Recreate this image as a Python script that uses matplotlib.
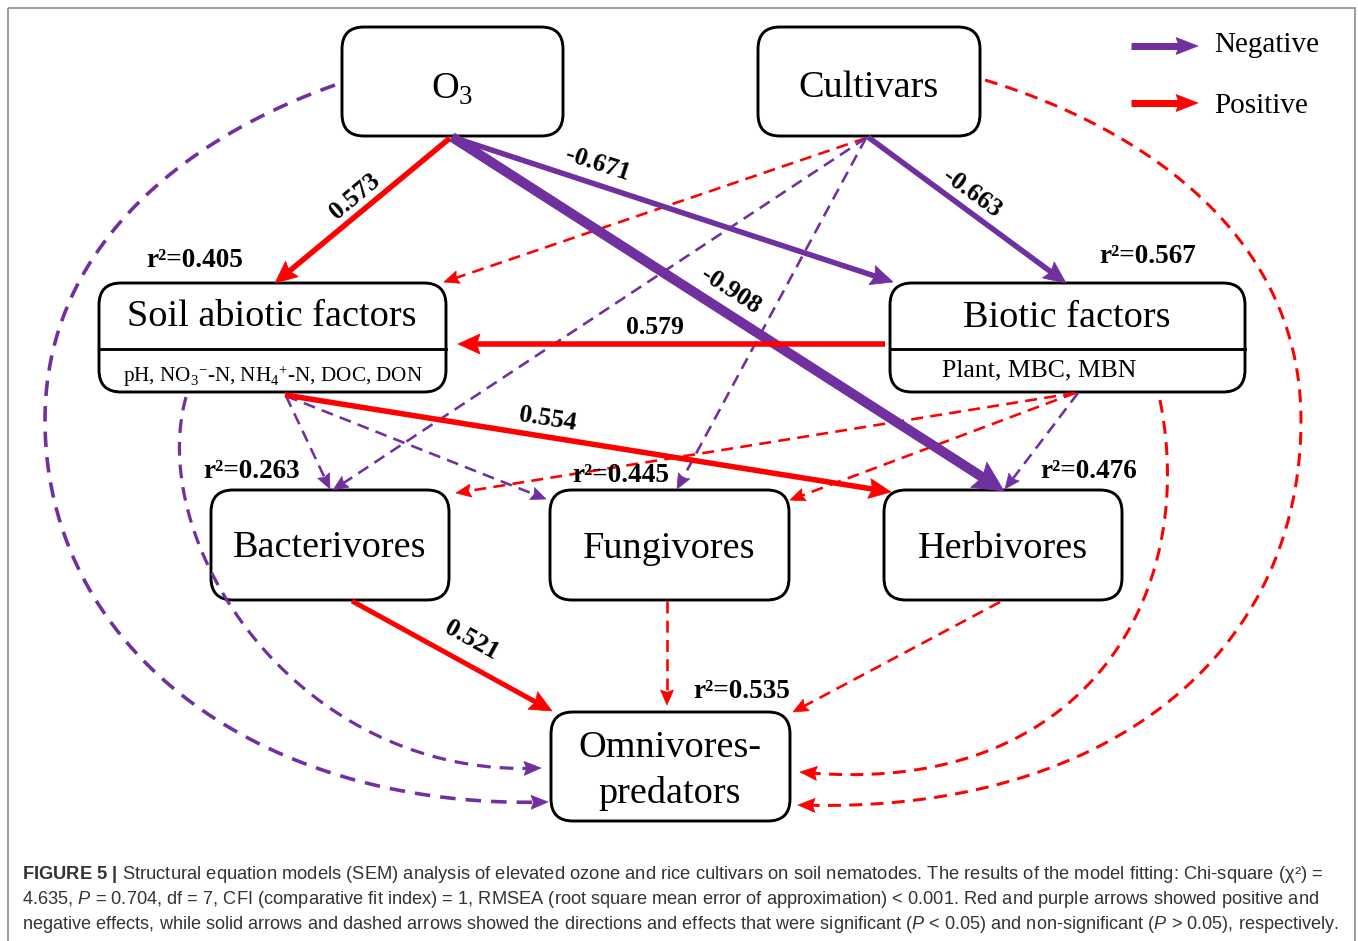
import numpy as np
import matplotlib
matplotlib.use("Agg")
import matplotlib.pyplot as plt
from matplotlib.patches import FancyBboxPatch, Polygon, Rectangle

plt.rcParams['mathtext.fontset'] = 'custom'
plt.rcParams['mathtext.rm'] = 'Liberation Serif'
plt.rcParams['mathtext.it'] = 'Liberation Sans:italic'
plt.rcParams['mathtext.bf'] = 'Liberation Sans:bold'

SERIF = 'Liberation Serif'
SANS = 'Liberation Sans'
PURPLE = '#7030A0'
RED = '#FF0000'
POS_COLOR = RED
NEG_COLOR = PURPLE

# ---------------- data ----------------
node_keys = ['O3', 'Cult', 'Soil', 'Biot', 'Bact', 'Fung', 'Herb', 'Omni']
node_titles = ['O$_3$', 'Cultivars', 'Soil abiotic factors', 'Biotic factors',
               'Bacterivores', 'Fungivores', 'Herbivores', 'Omnivores-\npredators']
node_subtitles = {'Soil': 'pH, NO$_3$$^{-}$-N, NH$_4$$^{+}$-N, DOC, DON',
                  'Biot': 'Plant, MBC, MBN'}

r2_nodes = ['Soil', 'Biot', 'Bact', 'Fung', 'Herb', 'Omni']
r2_values = [0.405, 0.567, 0.263, 0.445, 0.476, 0.535]

# significant paths (solid)
sig_from = ['O3', 'O3', 'O3', 'Cult', 'Biot', 'Soil', 'Bact']
sig_to = ['Soil', 'Biot', 'Herb', 'Biot', 'Soil', 'Herb', 'Omni']
sig_coef = [0.573, -0.671, -0.908, -0.663, 0.579, 0.554, 0.521]

# non-significant paths (dashed, straight)
ns_from = ['Cult', 'Cult', 'Cult', 'Soil', 'Soil', 'Biot', 'Biot', 'Biot', 'Fung', 'Herb']
ns_to = ['Soil', 'Bact', 'Fung', 'Bact', 'Fung', 'Bact', 'Fung', 'Herb', 'Omni', 'Omni']
ns_sign = [1, -1, -1, -1, -1, 1, 1, -1, 1, 1]

# non-significant paths (dashed, curved)
cv_from = ['O3', 'Soil', 'Biot', 'Cult']
cv_to = ['Omni', 'Omni', 'Omni', 'Omni']
cv_sign = [-1, -1, 1, 1]

legend_labels = ['Negative', 'Positive']

caption_lines = [
    r'$\mathbf{FIGURE\ 5\ |}$ Structural equation models (SEM) analysis of elevated ozone and rice cultivars on soil nematodes. The results of the model fitting: Chi-square (χ²) =',
    r'4.635, $\mathit{P}$ = 0.704, df = 7, CFI (comparative fit index) = 1, RMSEA (root square mean error of approximation) < 0.001. Red and purple arrows showed positive and',
    r'negative effects, while solid arrows and dashed arrows showed the directions and effects that were significant ($\mathit{P}$ < 0.05) and non-significant ($\mathit{P}$ > 0.05), respectively.',
]

# ---------------- layout (pixels) ----------------
BOX = {'O3': (342, 27, 563, 136), 'Cult': (758, 27, 980, 136),
       'Soil': (99, 283, 446, 392), 'Biot': (890, 283, 1245, 392),
       'Bact': (211, 490, 449, 600), 'Fung': (550, 490, 789, 600),
       'Herb': (884, 490, 1122, 600), 'Omni': (551, 712, 790, 821)}
TITLE_POS = {'O3': [(452, 99)], 'Cult': [(868, 97)], 'Soil': [(272, 326)],
             'Biot': [(1067, 327)], 'Bact': [(330, 557)], 'Fung': [(669, 558)],
             'Herb': [(1003, 558)], 'Omni': [(670, 757), (670, 803)]}
SUB_POS = {'Soil': (273, 382, 'center', 15.2), 'Biot': (942, 376, 'left', 18.5)}
DIVIDER_Y = 349
R2_POS = {'Soil': (195, 267), 'Biot': (1148, 263), 'Bact': (252, 478),
          'Fung': (621, 482), 'Herb': (1089, 478), 'Omni': (742, 698)}

SIG_GEOM = [((450, 138), (275, 283)), ((452, 137), (893, 282)), ((452, 137), (1004, 491)),
            ((868, 137), (1066, 283)), ((885, 344), (458, 344)), ((285, 395), (891, 492)),
            ((352, 601), (552, 711))]
SIG_LW = [5.5, 5.5, 10, 5.5, 5.5, 5.5, 5]
SIG_HEAD = [(22, 20), (22, 20), (30, 30), (22, 20), (22, 20), (22, 20), (22, 20)]
SIG_LABEL = [(355, 196, 40), (598, 164, -18), (731, 291, -33), (972, 193, -36),
             (655, 327, 0), (548, 419, -9), (472, 640, -29)]

NS_GEOM = [((866, 138), (444, 282)), ((866, 138), (333, 490)), ((866, 138), (677, 489)),
           ((286, 396), (330, 489)), ((286, 396), (546, 499)), ((1075, 393), (456, 493)),
           ((1075, 393), (790, 500)), ((1078, 393), (1005, 489)), ((667, 601), (667, 705)),
           ((1000, 602), (793, 712))]

CV_GEOM = [
    [[(335, 85), (180, 140), (45, 250), (45, 420)], [(45, 420), (45, 650), (260, 810), (548, 802)]],
    [[(186, 397), (145, 545), (300, 780), (541, 768)]],
    [[(1160, 400), (1200, 600), (1080, 800), (800, 772)]],
    [[(985, 80), (1150, 130), (1301, 240), (1301, 420)], [(1301, 420), (1301, 660), (1100, 815), (798, 805)]],
]
CV_LW = [3.6, 3.2, 3.0, 3.0]
CV_DASH = [(4.3, 2.8), (4.3, 2.8), (4.3, 2.8), (4.3, 2.8)]

LEGEND_GEOM = [((1131, 46), (1198, 46)), ((1131, 103), (1198, 103))]
LEGEND_TEXT = [(1214, 52), (1214, 113)]

CAPTION_X = 22
CAPTION_Y = [879, 904, 929]
CAPTION_W = [1294, 1298, 1312]

PX = 72.0 / 100.0

fig = plt.figure(figsize=(13.58, 9.41), dpi=100)
ax = fig.add_axes([0, 0, 1, 1])
ax.set_xlim(0, 1358)
ax.set_ylim(941, 0)
ax.axis('off')

ax.add_patch(Rectangle((8, 8), 1347, 945, fill=False, ec='#8a8a8a', lw=1.2, zorder=1))


def bezier(segs, n=300):
    out = []
    for P in segs:
        P = np.asarray(P, float)
        t = np.linspace(0, 1, n)[:, None]
        B = ((1 - t) ** 3) * P[0] + 3 * ((1 - t) ** 2) * t * P[1] + 3 * (1 - t) * t ** 2 * P[2] + t ** 3 * P[3]
        out.append(B if not out else B[1:])
    return np.vstack(out)


def draw_arrow(pts, color, lw, hl, hw, dash=None, z=4):
    pts = np.asarray(pts, float)
    tip = pts[-1]
    d = np.hypot(*(pts - tip).T)
    if len(pts) == 2:
        v = tip - pts[0]
    else:
        idx = np.where(d >= hl)[0][-1]
        v = tip - pts[idx]
    v = v / np.hypot(*v)
    base = tip - v * hl
    cut = hl * 0.6
    if len(pts) == 2:
        line = np.array([pts[0], tip - v * cut])
    else:
        line = np.vstack([pts[d > cut], tip - v * cut])
    ls = '-' if dash is None else (0, dash)
    ax.plot(line[:, 0], line[:, 1], color=color, lw=lw * PX, ls=ls,
            solid_capstyle='butt', dash_capstyle='butt', zorder=z)
    nrm = np.array([-v[1], v[0]])
    head = Polygon([tip, base + nrm * hw / 2, tip - v * hl * 0.85, base - nrm * hw / 2],
                   closed=True, fc=color, ec=color, lw=0.5, zorder=z)
    ax.add_patch(head)


def col(s):
    return POS_COLOR if s > 0 else NEG_COLOR


# boxes
for k, title in zip(node_keys, node_titles):
    x0, y0, x1, y1 = BOX[k]
    ax.add_patch(FancyBboxPatch((x0, y0), x1 - x0, y1 - y0,
                                boxstyle='round,pad=0,rounding_size=22',
                                fc='white', ec='black', lw=2.1, zorder=3))
    for line, (tx, ty) in zip(title.split('\n'), TITLE_POS[k]):
        ax.text(tx, ty, line, family=SERIF, fontsize=27.5, ha='center', va='baseline', zorder=5)
    if k in node_subtitles:
        ax.plot([x0, x1], [DIVIDER_Y, DIVIDER_Y], color='black', lw=2.1, zorder=5)
        sx, sy, ha, fs = SUB_POS[k]
        ax.text(sx, sy, node_subtitles[k], family=SERIF, fontsize=fs, ha=ha, va='baseline', zorder=5)

# r2 labels
for k, v in zip(r2_nodes, r2_values):
    x, y = R2_POS[k]
    ax.text(x, y, 'r²=%.3f' % v, family=SERIF, fontweight='bold', fontsize=19.5,
            ha='center', va='baseline', zorder=6)

# straight dashed paths
for (p0, p1), s in zip(NS_GEOM, ns_sign):
    draw_arrow([p0, p1], col(s), 2.6, 15, 13, dash=(4.6, 2.8))

# curved dashed paths
for segs, s, lw, dash in zip(CV_GEOM, cv_sign, CV_LW, CV_DASH):
    draw_arrow(bezier(segs), col(s), lw, 17, 14, dash=dash)

# significant paths
for (p0, p1), c, lw, (hl, hw), (lx, ly, rot) in zip(SIG_GEOM, sig_coef, SIG_LW, SIG_HEAD, SIG_LABEL):
    draw_arrow([p0, p1], col(c), lw, hl, hw)
    ax.text(lx, ly, '%.3f' % c, family=SERIF, fontweight='bold', fontsize=18.5,
            ha='center', va='center', rotation=rot, rotation_mode='anchor', zorder=6)

# legend
for (p0, p1), s, lab, (tx, ty) in zip(LEGEND_GEOM, [-1, 1], legend_labels, LEGEND_TEXT):
    draw_arrow([p0, p1], col(s), 7, 22, 17)
    ax.text(tx, ty, lab, family=SERIF, fontsize=21, ha='left', va='baseline')

# caption
texts = []
for line, y in zip(caption_lines, CAPTION_Y):
    texts.append(ax.text(CAPTION_X, y, line, family=SANS, fontsize=12, color='#333333',
                         ha='left', va='baseline'))
fig.canvas.draw()
for t, target in zip(texts, CAPTION_W):
    w = t.get_window_extent().width
    t.set_fontsize(12 * target / w)

fig.savefig('out.png', dpi=100)
